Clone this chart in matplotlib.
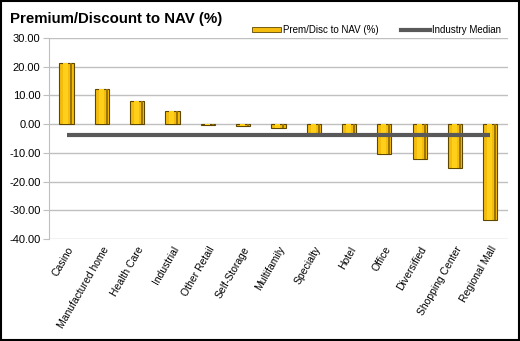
import matplotlib
matplotlib.use('Agg')
import matplotlib.pyplot as plt
from matplotlib.lines import Line2D
from matplotlib.patches import Rectangle

plt.rcParams['font.family'] = ['Liberation Sans', 'DejaVu Sans']

sectors = ["Casino", "Manufactured home", "Health Care", "Industrial", "Other Retail",
           "Self-Storage", "Multifamily", "Specialty", "Hotel", "Office", "Diversified",
           "Shopping Center", "Regional Mall"]
prem_disc = [21.2, 12.2, 8.2, 4.5, -0.3, -0.8, -1.3, -3.0, -3.5, -10.5, -12.3, -15.4, -33.4]
industry_median = -3.8
y_ticks = [30, 20, 10, 0, -10, -20, -30, -40]

fig = plt.figure(figsize=(5.2, 3.41), dpi=100)
ax = fig.add_axes([0.094, 0.299, 0.883, 0.59])

x = list(range(len(sectors)))
bw = 0.4
ax.bar(x, prem_disc, width=bw, color='#F4BC0C', edgecolor='#5e4700', linewidth=0.8, zorder=3)
# a bit of shading to fake the bevel
ax.bar([i + bw * 0.34 for i in x], prem_disc, width=bw * 0.14, color='#9c7400', linewidth=0, zorder=4)
ax.bar([i - bw * 0.05 for i in x], prem_disc, width=bw * 0.35, color='#FFCF1A', linewidth=0, zorder=4)

ax.plot([x[0], x[-1]], [industry_median] * 2, color='#595959', linewidth=3, zorder=5, solid_capstyle='butt')

ax.set_xlim(-0.5, len(sectors) - 0.5)
ax.set_ylim(-40, 30)
ax.set_yticks(y_ticks)
ax.set_yticklabels(["{:.2f}".format(v) for v in y_ticks], fontsize=8)
ax.set_xticks(x)
ax.set_xticklabels(sectors, rotation=60, ha='right', rotation_mode='anchor', fontsize=7.5)
ax.tick_params(axis='x', length=0, pad=4)
ax.tick_params(axis='y', length=4, color='#bfbfbf', pad=2)
ax.grid(axis='y', color='#c0c0c0', linewidth=1, zorder=0)
for s in ['top', 'right', 'bottom']:
    ax.spines[s].set_visible(False)
ax.spines['left'].set_color('#bfbfbf')

fig.text(0.019, 0.945, "Premium/Discount to NAV (%)", fontsize=10.8, fontweight='bold', va='center')

handles = [Rectangle((0, 0), 1, 1, facecolor='#F4BC0C', edgecolor='#5e4700', linewidth=0.6),
           Line2D([], [], color='#595959', linewidth=3)]
fig.legend(handles, ["Prem/Disc to NAV (%)", "Industry Median"], loc='center', ncol=2,
           bbox_to_anchor=(0.724, 0.912), frameon=False, fontsize=7, handlelength=2.9,
           handleheight=0.45, handletextpad=0.2, columnspacing=2.4)

fig.patches.append(Rectangle((0.002, 0.003), 0.996, 0.994, transform=fig.transFigure,
                             fill=False, edgecolor='black', linewidth=1.5))

fig.savefig('out.png', dpi=100)
